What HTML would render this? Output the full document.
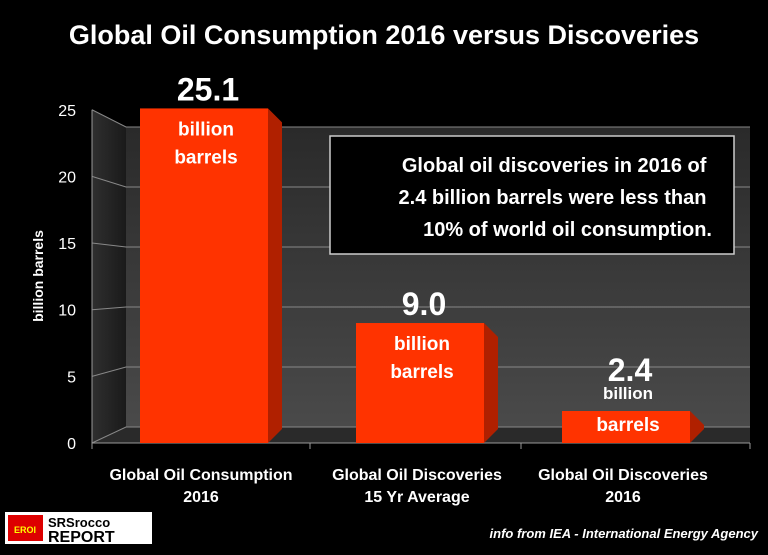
<!DOCTYPE html>
<html><head><meta charset="utf-8"><style>
body{margin:0;background:#000;width:768px;height:550px;overflow:hidden;font-family:"Liberation Sans",sans-serif}
</style></head><body>
<svg width="768" height="550" viewBox="0 0 768 550" xmlns="http://www.w3.org/2000/svg">
<defs>
<linearGradient id="wall" x1="0" y1="0" x2="0" y2="1"><stop offset="0" stop-color="#2a2a2a"/><stop offset="1" stop-color="#4a4a4a"/></linearGradient>
<linearGradient id="side" x1="0" y1="0" x2="1" y2="0"><stop offset="0" stop-color="#2f2f2f"/><stop offset="1" stop-color="#1a1a1a"/></linearGradient>
</defs>
<text x="384" y="44" fill="#fff" font-size="27" font-weight="bold" text-anchor="middle">Global Oil Consumption 2016 versus Discoveries</text>
<g id="plot"></g>
<g>
<rect x="330" y="136" width="404" height="118" fill="#000" stroke="#ccc" stroke-width="1.5"/>
<text fill="#fff" font-size="20" font-weight="bold" text-anchor="end">
<tspan x="712" y="172">Global oil discoveries in 2016 of</tspan>
<tspan x="712" y="204">2.4 billion barrels were less than</tspan>
<tspan x="712" y="236">10% of world oil consumption.</tspan></text>
</g>
<text transform="translate(43,276) rotate(-90)" fill="#fff" font-size="14" font-weight="bold" text-anchor="middle">billion  barrels</text>
<g>
<rect x="5" y="512" width="147" height="32" fill="#fff"/>
<rect x="8" y="515" width="35" height="26" fill="#d00"/>
<text x="25" y="533" fill="#ff0" font-size="9" font-weight="bold" text-anchor="middle">EROI</text>
<text x="48" y="527" fill="#000" font-size="13" font-weight="bold">SRSrocco</text>
<text x="48" y="542" fill="#000" font-size="16" font-weight="bold">REPORT</text>
</g>
<text x="758" y="538" fill="#fff" font-size="13" font-weight="bold" font-style="italic" text-anchor="end">info from IEA - International Energy Agency</text>
<script>
const categories=[["Global  Oil Consumption","2016"],["Global  Oil Discoveries","15 Yr Average"],["Global  Oil Discoveries","2016"]];
const values=[25.1,9.0,2.4];
const valueLabels=["25.1","9.0","2.4"];
const ticks=[0,5,10,15,20,25];
const NS="http://www.w3.org/2000/svg";
const g=document.getElementById('plot');
function mk(t,a,p){const e=document.createElementNS(NS,t);for(const k in a)e.setAttribute(k,a[k]);(p||g).appendChild(e);return e;}
const yF=v=>443-v*13.33, yB=v=>427-v*12;
const xC=i=>204+i*211+(i===1?5:0);
let w=mk('polygon',{points:`126,${yB(25)} 750,${yB(25)} 750,${yB(0)} 126,${yB(0)}`,fill:'url(#wall)'});


let sw=mk('polygon',{points:`92,${yF(25)} 126,${yB(25)} 126,${yB(0)} 92,${yF(0)}`,fill:'url(#side)'});


let fl=mk('polygon',{points:`92,${yF(0)} 126,${yB(0)} 750,${yB(0)} 750,${yF(0)}`,fill:'#2a2a2a'});


ticks.forEach(t=>{
 let l=mk('polyline',{points:`92,${yF(t)} 126,${yB(t)} 750,${yB(t)}`,fill:'none',stroke:'#888','stroke-width':1});
 
 
 let tx=mk('text',{x:76,y:yF(t)+6,fill:'#fff','font-size':16,'text-anchor':'end'});tx.textContent=t;
 
 
});
mk('line',{x1:92,y1:yF(25),x2:92,y2:yF(0),stroke:'#999'});
mk('line',{x1:92,y1:yF(0),x2:750,y2:yF(0),stroke:'#999'});
[92,310,521,750].forEach(x=>mk('line',{x1:x,y1:yF(0),x2:x,y2:yF(0)+6,stroke:'#999'}));
values.forEach((v,i)=>{
 const x0=xC(i)-64,x1=xC(i)+64,yt=yF(v),yb=yF(0);
 let s=mk('polygon',{points:`${x1},${yt} ${x1+14},${yt+14} ${x1+14},${yb-14} ${x1},${yb}`,fill:'#b02000'});
 
 
 let b=mk('rect',{x:x0,y:yt,width:128,height:yb-yt,fill:'#ff3300'});
 
 
 const inside=v>5;
 let vl=mk('text',{x:xC(i)+4,y:inside?yt-8:yt-30,fill:'#fff','font-size':32,'font-weight':'bold','text-anchor':'middle'});vl.textContent=valueLabels[i];
 
 
 const y1=inside?yt+27:yt-12, y2=inside?yt+55:yt+20;
 let u1=mk('text',{x:xC(i)+2,y:y1,fill:'#fff','font-size':inside?19:17,'font-weight':'bold','text-anchor':'middle'});u1.textContent='billion';
 
 
 let u2=mk('text',{x:xC(i)+2,y:y2,fill:'#fff','font-size':19,'font-weight':'bold','text-anchor':'middle'});u2.textContent='barrels';
 
 
 categories[i].forEach((ln,j)=>{
  let c=mk('text',{x:xC(i)-3,y:480+j*22,fill:'#fff','font-size':16,'font-weight':'bold','text-anchor':'middle'});c.textContent=ln;
  
  
 });
});
</script>
</svg>
</body></html>
